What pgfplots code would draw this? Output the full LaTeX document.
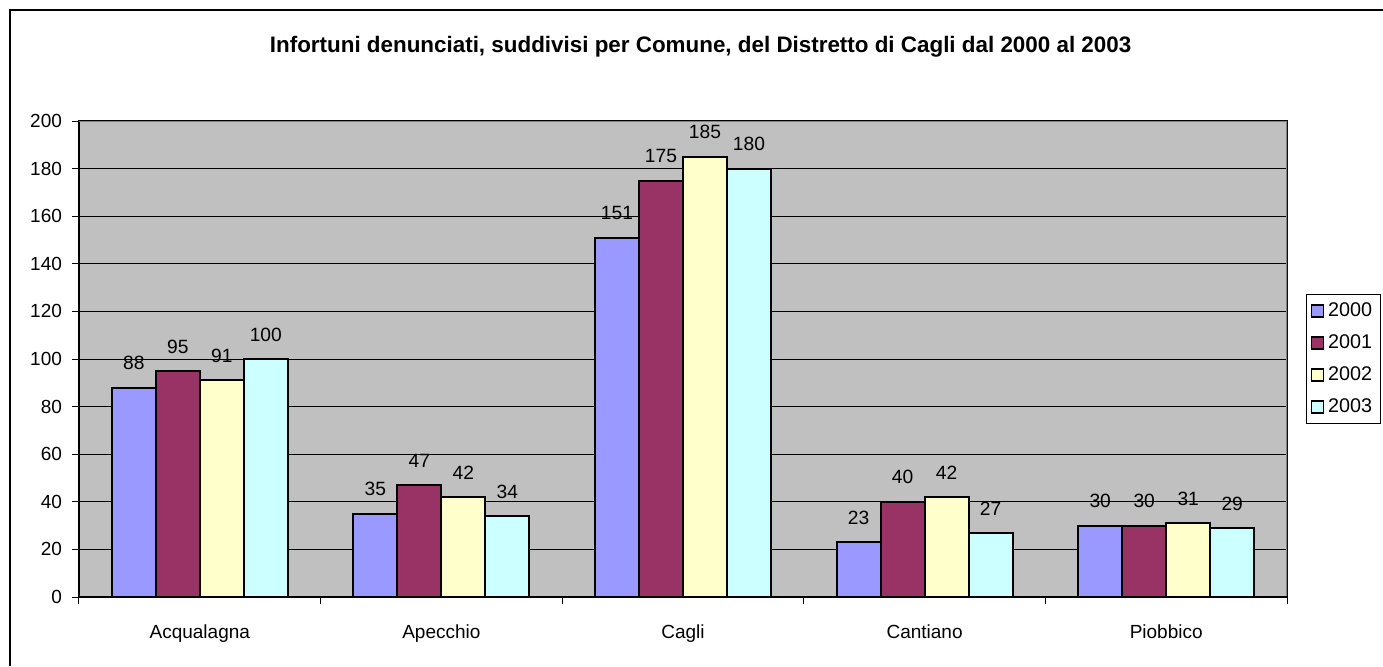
\documentclass[border=0pt]{standalone}
\usepackage{pgfplots}
\pgfplotsset{compat=1.18}
\usepackage{fontspec}
\setmainfont{Liberation Sans}
\definecolor{cA}{HTML}{9999FF}
\definecolor{cB}{HTML}{993366}
\definecolor{cC}{HTML}{FFFFCC}
\definecolor{cD}{HTML}{CCFFFF}
\definecolor{plotbg}{HTML}{C0C0C0}
\definecolor{frame}{HTML}{808080}
\begin{document}
\begin{tikzpicture}
\useasboundingbox (0,0) rectangle (691.5pt,333pt);
\draw[line width=0.8pt] (5pt,0) -- (5pt,328pt) -- (691.5pt,328pt);
\node[font=\fontsize{11.2}{13}\selectfont\bfseries] at (350.3pt,309.5pt) {Infortuni denunciati, suddivisi per Comune, del Distretto di Cagli dal 2000 al 2003};
\begin{axis}[
  at={(39.5pt,34.5pt)}, anchor=south west,
  scale only axis, width=604pt, height=238pt,
  ybar=0pt, bar width=22pt,
  xmin=-0.5, xmax=4.5, ymin=0, ymax=200,
  xtick={0,1,2,3,4},
  xticklabels={Acqualagna,Apecchio,Cagli,Cantiano,Piobbico},
  minor xtick={-0.5,0.5,1.5,2.5,3.5,4.5},
  ytick={0,20,...,200},
  xtick pos=bottom, ytick pos=left,
  tick align=outside,
  major tick length=3.5pt,
  minor tick length=3.5pt,
  x tick style={draw=none},
  minor x tick style={draw=black, line width=0.5pt},
  y tick style={draw=black, line width=0.5pt},
  ymajorgrids,
  major grid style={black, line width=0.5pt},
  axis background/.style={fill=plotbg},
  axis line style={black, line width=0.8pt},
  tick label style={font=\fontsize{9.5}{11}\selectfont},
  yticklabel style={xshift=-1.5pt},
  xticklabel style={yshift=-7pt},
  /pgf/number format/assume math mode=true,
  nodes near coords,
  every node near coord/.append style={font=\fontsize{9.6}{11}\selectfont, yshift=5pt},
  every axis plot/.append style={draw=black, line width=1pt},
  legend style={at={(1,0.5)}, anchor=west, xshift=9.5pt,
    font=\fontsize{9.9}{11}\selectfont, draw=black, line width=0.5pt,
    row sep=3.6pt, inner sep=2pt},
  legend cell align=left,
  legend image code/.code={\draw[#1, line width=0.8pt] (0pt,-3pt) rectangle (6pt,3pt);},
]
\addplot[fill=cA] coordinates {(0,88) (1,35) (2,151) (3,23) (4,30)};
\addplot[fill=cB] coordinates {(0,95) (1,47) (2,175) (3,40) (4,30)};
\addplot[fill=cC] coordinates {(0,91) (1,42) (2,185) (3,42) (4,31)};
\addplot[fill=cD] coordinates {(0,100) (1,34) (2,180) (3,27) (4,29)};
\legend{2000,2001,2002,2003}
\draw[frame, line width=0.8pt] (rel axis cs:0,1) -- (rel axis cs:1,1) -- (rel axis cs:1,0);
\draw[black, line width=0.8pt] (rel axis cs:0,0) -- (rel axis cs:1,0);
\end{axis}
\end{tikzpicture}
\end{document}
